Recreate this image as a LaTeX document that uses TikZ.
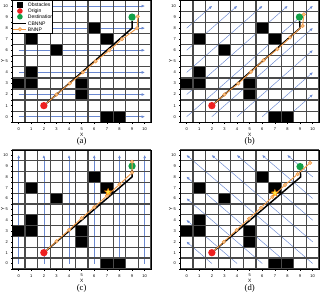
\documentclass[tikz,border=0pt]{standalone}
\usepackage{fontspec}
\setmainfont{Liberation Serif}
\setsansfont{Liberation Sans}
\usetikzlibrary{arrows.meta,shapes.geometric}
\definecolor{flowblue}{HTML}{6A88D0}
\definecolor{pathorange}{HTML}{F29A45}
\definecolor{markfill}{HTML}{F8C48C}
\definecolor{origred}{HTML}{EE2020}
\definecolor{destgreen}{HTML}{12A048}
\definecolor{gridgray}{HTML}{4A4A4A}
\definecolor{staryellow}{HTML}{FFE640}
\tikzset{
  flow/.style={flowblue, line width=0.35pt, -{Triangle[length=2.2pt,width=1.8pt]}},
  gridline/.style={gridgray, line width=0.9pt},
  frameline/.style={black, line width=0.4pt},
  tickline/.style={black, line width=0.3pt},
  cbnnp/.style={black, line width=1.1pt},
  bnnp/.style={pathorange, line width=0.7pt},
  bmark/.style={circle, draw=pathorange, fill=markfill, inner sep=0pt, minimum size=2.6pt, line width=0.4pt},
  origin/.style={circle, fill=origred, inner sep=0pt, minimum size=5.5pt},
  dest/.style={circle, fill=destgreen, inner sep=0pt, minimum size=5.5pt},
  starmark/.style={star, star points=5, star point ratio=2.3, fill=staryellow, draw=orange, line width=0.3pt, inner sep=0pt, minimum size=5.5pt},
  ticklab/.style={font=\sffamily\fontsize{3}{3}\selectfont, inner sep=0pt},
  axlab/.style={font=\sffamily\fontsize{3.6}{3.6}\selectfont, inner sep=0pt},
  caplab/.style={font=\fontsize{6.5}{7}\selectfont, inner sep=0pt},
  legtext/.style={font=\sffamily\fontsize{3.8}{3.8}\selectfont, inner sep=0pt, anchor=west},
  legsq/.style={fill=black, inner sep=0pt, minimum size=4.2pt},
}
\newcommand{\obstacles}{%
  \fill[black] (0.5,6.5) rectangle (1.5,7.5);
  \fill[black] (2.5,5.5) rectangle (3.5,6.5);
  \fill[black] (5.5,7.5) rectangle (6.5,8.5);
  \fill[black] (6.5,6.5) rectangle (7.5,7.5);
  \fill[black] (-0.5,2.5) rectangle (1.5,3.5);
  \fill[black] (0.5,3.5) rectangle (1.5,4.5);
  \fill[black] (4.5,1.5) rectangle (5.5,3.5);
  \fill[black] (6.5,-0.5) rectangle (8.5,0.5);
}
\newcommand{\gridandaxes}[2]{%
  \obstacles
  \foreach \g in {-0.5,0.5,...,10.5}{%
    \draw[gridline] (\g,-0.5) -- (\g,10.5);
    \draw[gridline] (-0.5,\g) -- (10.5,\g);
    \draw[tickline] (\g,-0.5) -- ++(0,-0.8pt);
    \draw[tickline] (-0.5,\g) -- ++(-0.8pt,0);
  }
  \draw[frameline] (-0.5,-0.5) rectangle (10.5,10.5);
  \foreach \i in {0,...,10}{%
    \draw[tickline] (\i,-0.5) -- ++(0,-1.4pt);
    \draw[tickline] (-0.5,\i) -- ++(-1.4pt,0);
    \node[ticklab] (#1-xt\i) at (\i,-1.12) {\i};
    \node[ticklab, anchor=east] (#1-yt\i) at (-0.84,\i) {\i};
  }
  \node[axlab] (#1-xl) at (5,-1.62) {X};
  \node[axlab, rotate=90] (#1-yl) at (-1.27,5) {Y};
  \node[caplab] (#1-cap) at (5,-2.27) {#2};
}
\begin{document}
\begin{tikzpicture}
\useasboundingbox (0pt,0pt) rectangle (240.75pt,220.5pt);

% ---------------- (a) ----------------
\begin{scope}[shift={(14pt,132.98pt)}, x=9.45pt, y=8.30pt]
  \foreach \v in {0,2,...,10} \draw[flow] (0,\v) -- (10,\v);
  \gridandaxes{a}{(a)}
  % legend
  \draw[fill=white, draw=black, line width=0.3pt] (-0.5,10.5) rectangle (2.7,7.53);
  \node[legsq] (lg-obs) at (0.1,10.12) {};
  \node[legtext] (lg-obs-t) at (0.71,10.12) {Obstacles};
  \node[origin, minimum size=4.2pt] (lg-org) at (0.1,9.55) {};
  \node[legtext] (lg-org-t) at (0.71,9.55) {Origin};
  \node[dest, minimum size=4.2pt] (lg-dst) at (0.1,9.03) {};
  \node[legtext] (lg-dst-t) at (0.71,9.03) {Destination};
  \coordinate (lg-c1) at (-0.45,8.44); \coordinate (lg-c2) at (0.62,8.44);
  \draw[cbnnp] (lg-c1) -- (lg-c2);
  \node[legtext] (lg-cb-t) at (0.71,8.44) {CBNNP};
  \coordinate (lg-b1) at (-0.45,7.9); \coordinate (lg-b2) at (0.62,7.9);
  \draw[bnnp] (lg-b1) -- (lg-b2);
  \node[bmark] (lg-bm) at (0.1,7.9) {};
  \node[legtext] (lg-bn-t) at (0.71,7.9) {BNNP};
  % paths
  \node[origin] (a-o) at (2,1) {};
  \node[dest] (a-d) at (9,9) {};
  \coordinate (a-k) at (9,8);
  \draw[cbnnp] (a-o) -- (a-k) -- (a-d);
  \node[bmark] (a-m1) at (3,2) {};
  \node[bmark] (a-m2) at (4.05,3) {};
  \node[bmark] (a-m3) at (5.1,4) {};
  \node[bmark] (a-m4) at (6.1,5) {};
  \node[bmark] (a-m5) at (7.2,6) {};
  \node[bmark] (a-m6) at (8.2,7) {};
  \node[bmark] (a-m7) at (9.4,8) {};
  \node[bmark] (a-m8) at (9.45,9.05) {};
  \draw[bnnp] (a-o) -- (a-m1) -- (a-m2) -- (a-m3) -- (a-m4) -- (a-m5) -- (a-m6) -- (a-m7) -- (a-m8);
\end{scope}

% ---------------- (b) ----------------
\begin{scope}[shift={(140pt,132.98pt)}, x=9.45pt, y=8.30pt]
  \foreach \c in {0,2,...,8} \draw[flow] (0,\c) -- ({10-\c},10);
  \foreach \c in {2,4,...,8} \draw[flow] (\c,0) -- (10,{10-\c});
  \gridandaxes{b}{(b)}
  \node[origin] (b-o) at (2,1) {};
  \node[dest] (b-d) at (8.95,9) {};
  \coordinate (b-k) at (9,8);
  \draw[cbnnp] (b-o) -- (b-k) -- (b-d);
  \node[bmark] (b-m1) at (3,2) {};
  \node[bmark] (b-m2) at (4.1,3) {};
  \node[bmark] (b-m3) at (5.1,4.05) {};
  \node[bmark] (b-m4) at (6.1,5.1) {};
  \node[bmark] (b-m5) at (7.2,6.1) {};
  \node[bmark] (b-m6) at (8.2,7.15) {};
  \node[bmark] (b-m7) at (9.2,8.2) {};
  \node[bmark] (b-m8) at (9.3,9.25) {};
  \draw[bnnp] (b-o) -- (b-m1) -- (b-m2) -- (b-m3) -- (b-m4) -- (b-m5) -- (b-m6) -- (b-m7) -- (b-m8);
\end{scope}

% ---------------- (c) ----------------
\begin{scope}[shift={(14pt,22.875pt)}, x=9.45pt, y=8.12pt]
  \foreach \v in {0,2,...,10} \draw[flow] (\v,0) -- (\v,10);
  \gridandaxes{c}{(c)}
  \node[origin] (c-o) at (2,1) {};
  \node[dest] (c-d) at (9,9) {};
  \coordinate (c-k) at (9,8);
  \draw[cbnnp] (c-o) -- (c-k) -- (c-d);
  \node[bmark] (c-m1) at (3,2.05) {};
  \node[bmark] (c-m2) at (4,3.1) {};
  \node[bmark] (c-m3) at (5,4.2) {};
  \node[bmark] (c-m4) at (6,5.2) {};
  \node[bmark] (c-m5) at (7,6.25) {};
  \node[bmark] (c-m6) at (8,7.3) {};
  \node[bmark] (c-m7) at (9,8.4) {};
  \node[bmark] (c-m8) at (9,9.4) {};
  \draw[bnnp] (c-o) -- (c-m1) -- (c-m2) -- (c-m3) -- (c-m4) -- (c-m5) -- (c-m6) -- (c-m7) -- (c-m8);
  \node[starmark] (c-s) at (7.1,6.6) {};
\end{scope}

% ---------------- (d) ----------------
\begin{scope}[shift={(140pt,22.875pt)}, x=9.45pt, y=8.12pt]
  \foreach \c in {2,4,...,10} \draw[flow] (\c,0) -- (0,\c);
  \foreach \c in {12,14,...,18} \draw[flow] (10,{\c-10}) -- ({\c-10},10);
  \gridandaxes{d}{(d)}
  \node[origin] (d-o) at (2,1) {};
  \node[dest] (d-d) at (9,8.95) {};
  \coordinate (d-k) at (9.05,8);
  \draw[cbnnp] (d-o) -- (d-k) -- (d-d);
  \node[bmark] (d-m1) at (2.95,2) {};
  \node[bmark] (d-m2) at (3.97,3.1) {};
  \node[bmark] (d-m3) at (4.95,4.15) {};
  \node[bmark] (d-m4) at (5.9,5.15) {};
  \node[bmark] (d-m5) at (6.8,6.15) {};
  \node[bmark] (d-m6) at (7.8,7.25) {};
  \node[bmark] (d-m7) at (8.8,8.25) {};
  \node[bmark] (d-m8) at (9.8,9.3) {};
  \draw[bnnp] (d-o) -- (d-m1) -- (d-m2) -- (d-m3) -- (d-m4) -- (d-m5) -- (d-m6) -- (d-m7) -- (d-m8);
  \node[starmark] (d-s) at (7,6.5) {};
\end{scope}
\end{tikzpicture}
\end{document}
